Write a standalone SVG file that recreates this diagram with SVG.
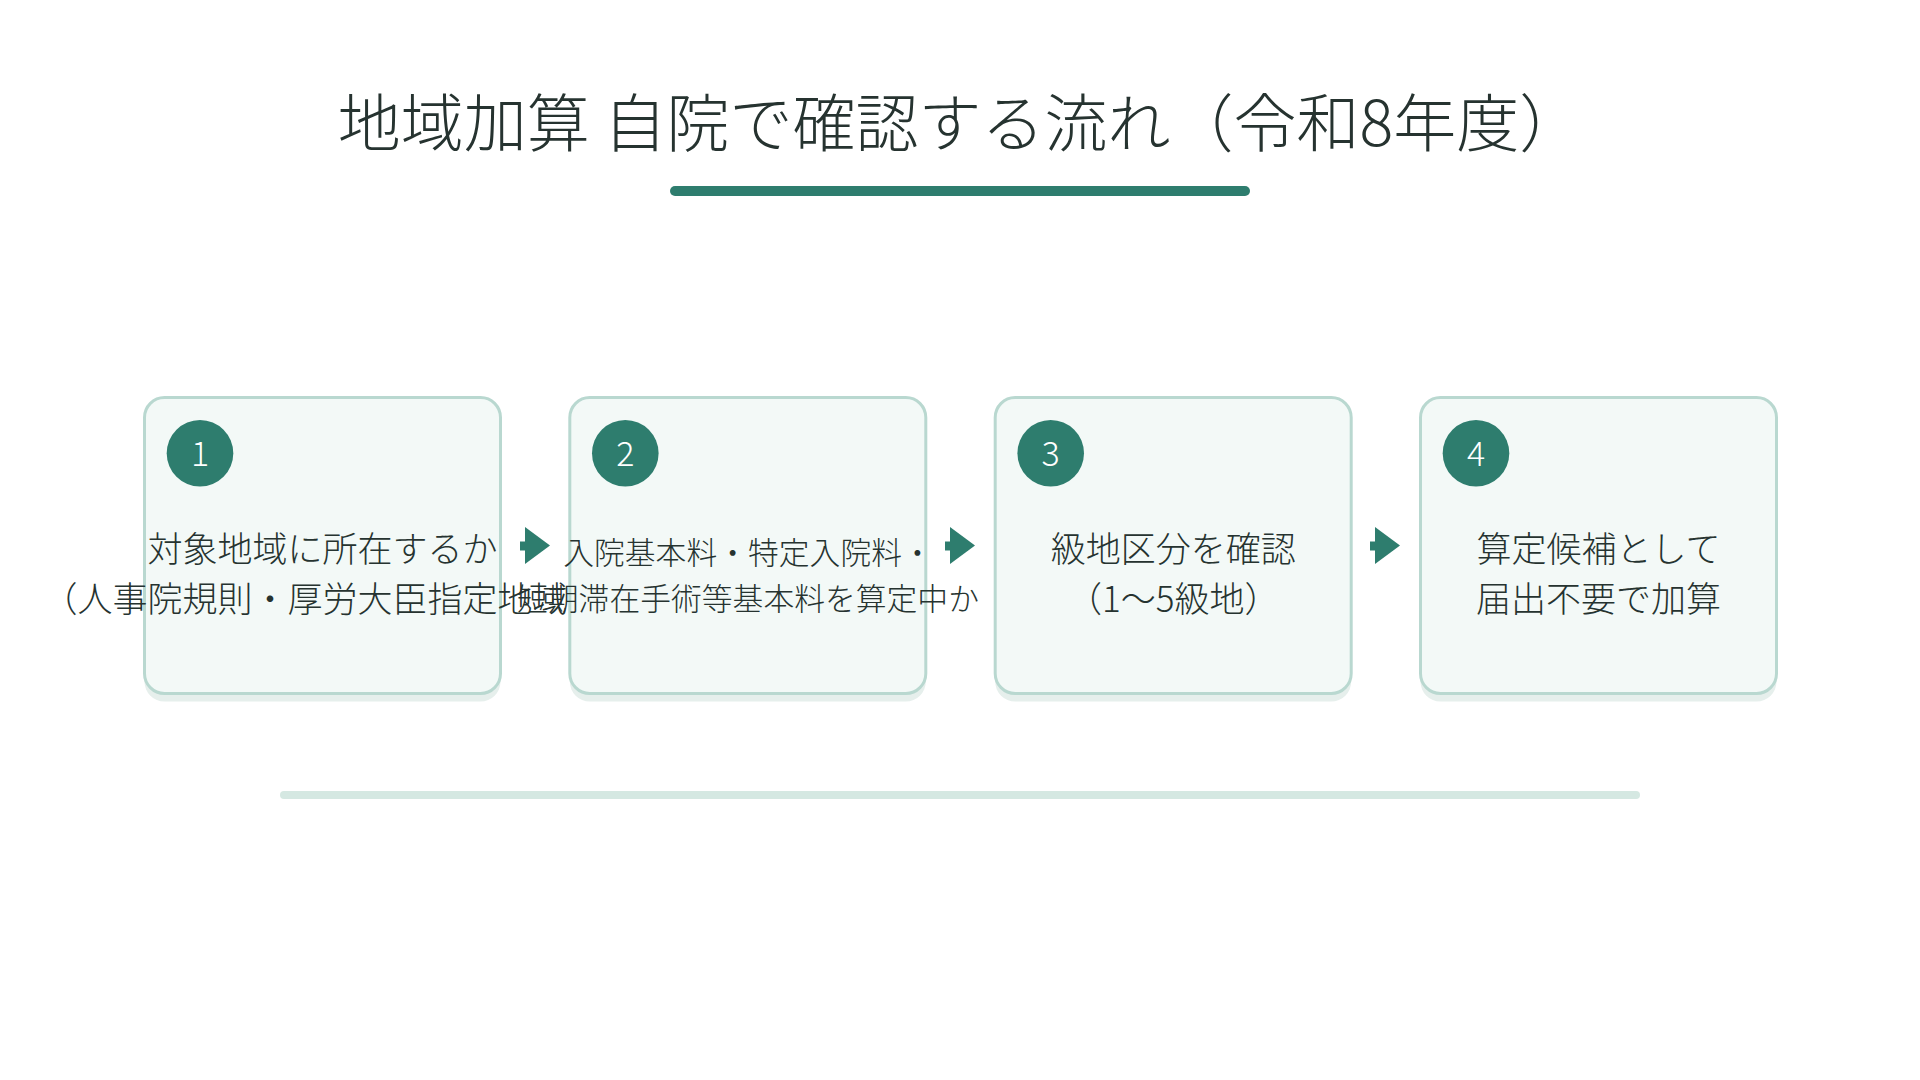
<svg xmlns="http://www.w3.org/2000/svg" width="1920" height="1080" viewBox="0 0 1920 1080">
  <defs>
    <style>
      .title { font-family: "Noto Sans CJK JP", "Noto Sans", sans-serif; font-weight: 300; font-size: 63px; fill: #263330; text-anchor: middle; }
      .shadow { fill: #e6efec; }
      .box { fill: #f3f9f7; stroke: #b9d8d0; stroke-width: 3; }
      .badge { fill: #2e7d6e; }
      .num { font-family: "Noto Sans CJK JP", "Noto Sans", sans-serif; font-weight: 300; font-size: 34px; fill: #ffffff; text-anchor: middle; }
      .lbl { font-family: "Noto Sans CJK JP", "Noto Sans", sans-serif; font-weight: 300; font-size: 35px; fill: #263330; text-anchor: middle; }
      .lbl2 { font-family: "Noto Sans CJK JP", "Noto Sans", sans-serif; font-weight: 300; font-size: 30.8px; fill: #263330; text-anchor: middle; }
      .arrow { fill: #2e7d6e; stroke: none; }
      .stem { stroke: #2e7d6e; stroke-width: 9; }
    </style>
    <g id="arrowShape">
      <line class="stem" x1="-15" y1="546" x2="8" y2="546"/>
      <polygon class="arrow" points="-10,527 15,545.5 -10,564"/>
    </g>
  </defs>
  <rect width="1920" height="1080" fill="#ffffff"/>

  <g id="title">
    <text class="title" x="960" y="146">地域加算 自院で確認する流れ（令和8年度）</text>
    <rect x="670" y="186" width="580" height="10" rx="5" fill="#2e7d6e"/>
  </g>

  <g id="connectors">
    <use href="#arrowShape" x="535" y="0"/>
    <use href="#arrowShape" x="960" y="0"/>
    <use href="#arrowShape" x="1385" y="0"/>
  </g>

  <g id="node1">
    <rect class="shadow" x="144.5" y="405.5" width="356" height="296" rx="20"/>
    <rect class="box" x="144.5" y="397.5" width="356" height="296" rx="20"/>
    <circle class="badge" cx="200" cy="453.3" r="33.3"/>
    <text class="num" x="200" y="465.5">1</text>
    <text class="lbl" x="322.5" y="562">対象地域に所在するか</text>
    <text class="lbl" x="322.5" y="611.5">（人事院規則・厚労大臣指定地域）</text>
  </g>

  <g id="node2">
    <rect class="shadow" x="569.8" y="405.5" width="356" height="296" rx="20"/>
    <rect class="box" x="569.8" y="397.5" width="356" height="296" rx="20"/>
    <circle class="badge" cx="625.3" cy="453.3" r="33.3"/>
    <text class="num" x="625.3" y="465.5">2</text>
    <text class="lbl2" x="748" y="563.5">入院基本料・特定入院料・</text>
    <text class="lbl2" x="748" y="609.5">短期滞在手術等基本料を算定中か</text>
  </g>

  <g id="node3">
    <rect class="shadow" x="995.2" y="405.5" width="356" height="296" rx="20"/>
    <rect class="box" x="995.2" y="397.5" width="356" height="296" rx="20"/>
    <circle class="badge" cx="1050.7" cy="453.3" r="33.3"/>
    <text class="num" x="1050.7" y="465.5">3</text>
    <text class="lbl" x="1173.2" y="562">級地区分を確認</text>
    <text class="lbl" x="1173.2" y="611.5">（1〜5級地）</text>
  </g>

  <g id="node4">
    <rect class="shadow" x="1420.5" y="405.5" width="356" height="296" rx="20"/>
    <rect class="box" x="1420.5" y="397.5" width="356" height="296" rx="20"/>
    <circle class="badge" cx="1476" cy="453.3" r="33.3"/>
    <text class="num" x="1476" y="465.5">4</text>
    <text class="lbl" x="1598.5" y="562">算定候補として</text>
    <text class="lbl" x="1598.5" y="611.5">届出不要で加算</text>
  </g>

  <g id="footer">
    <rect x="280" y="791" width="1360" height="8" rx="4" fill="#d5e8e2"/>
  </g>
</svg>
